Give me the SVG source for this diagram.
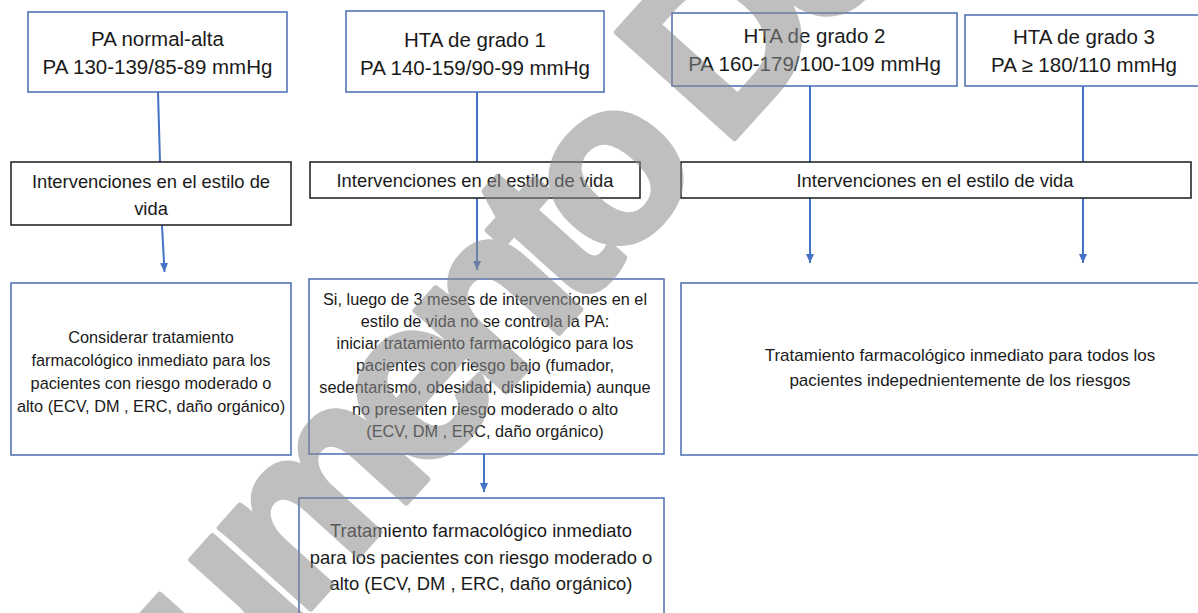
<svg xmlns="http://www.w3.org/2000/svg" width="1198" height="613" viewBox="0 0 1198 613">
<style>
.bx{fill:#ffffff;stroke:#4a6cb3;stroke-width:1.5}
.bk{fill:#ffffff;stroke:#1a1a1a;stroke-width:1.5}
.t{font-family:"Liberation Sans",Arial,sans-serif;fill:#1a1a1a;text-anchor:middle}
.h{font-size:20.5px}
.m{font-size:18.4px}
.s{font-size:16.3px}
.r{font-size:17px}
.c{fill:none;stroke:#4472c4;stroke-width:2}
.wm{font-family:"Liberation Sans",Arial,sans-serif;font-weight:bold;font-size:230px;letter-spacing:-20px;fill:#8c8c8c;stroke:#8c8c8c;stroke-width:6;stroke-linejoin:round}
</style>
<defs>
<marker id="ah" markerUnits="userSpaceOnUse" markerWidth="10" markerHeight="10" refX="9" refY="5" orient="auto">
<path d="M0,1 L9,5 L0,9 Z" fill="#4472c4"/>
</marker>
</defs>
<rect width="1198" height="613" fill="#ffffff"/>

<g id="connectors">
<line class="c" x1="158" y1="92" x2="160" y2="162"/>
<line class="c" x1="162" y1="225" x2="164.5" y2="272" marker-end="url(#ah)"/>
<line class="c" x1="477" y1="92" x2="477" y2="162"/>
<line class="c" x1="477" y1="198" x2="477" y2="270" marker-end="url(#ah)"/>
<line class="c" x1="484" y1="454" x2="484" y2="492" marker-end="url(#ah)"/>
<line class="c" x1="810" y1="86" x2="810" y2="162"/>
<line class="c" x1="810" y1="198" x2="810" y2="263" marker-end="url(#ah)"/>
<line class="c" x1="1083" y1="86" x2="1083" y2="162"/>
<line class="c" x1="1083" y1="198" x2="1083" y2="263" marker-end="url(#ah)"/>
</g>

<g id="n-normal-alta">
<rect class="bx" x="28" y="12" width="259" height="80"/>
<text class="t h" x="157.5" y="45.5">PA normal-alta</text>
<text class="t h" x="157.5" y="74">PA 130-139/85-89 mmHg</text>
</g>

<g id="n-grado1">
<rect class="bx" x="346" y="11" width="258" height="81"/>
<text class="t h" x="475" y="46.5">HTA de grado 1</text>
<text class="t h" x="475" y="75">PA 140-159/90-99 mmHg</text>
</g>

<g id="n-grado2">
<rect class="bx" x="672" y="13" width="285" height="73"/>
<text class="t h" x="814.5" y="43">HTA de grado 2</text>
<text class="t h" x="814.5" y="71">PA 160-179/100-109 mmHg</text>
</g>

<g id="n-grado3">
<rect class="bx" x="965" y="15" width="250" height="71"/>
<text class="t h" x="1084" y="43.5">HTA de grado 3</text>
<text class="t h" x="1084" y="71.5">PA ≥ 180/110 mmHg</text>
</g>

<g id="n-estilo1">
<rect class="bk" x="11" y="162" width="280" height="63"/>
<text class="t m" x="151" y="187.5">Intervenciones en el estilo de</text>
<text class="t m" x="151" y="214.5">vida</text>
</g>

<g id="n-estilo2">
<rect class="bk" x="310" y="162" width="330" height="36"/>
<text class="t m" x="475" y="186.5">Intervenciones en el estilo de vida</text>
</g>

<g id="n-estilo3">
<rect class="bk" x="681" y="162" width="510" height="36"/>
<text class="t m" x="935" y="186.5">Intervenciones en el estilo de vida</text>
</g>

<g id="n-considerar">
<rect class="bx" x="11" y="283" width="280" height="172"/>
<text class="t s" x="151" y="343">Considerar tratamiento</text>
<text class="t s" x="151" y="366">farmacológico inmediato para los</text>
<text class="t s" x="151" y="389">pacientes con riesgo moderado o</text>
<text class="t s" x="151" y="412">alto (ECV, DM , ERC, daño orgánico)</text>
</g>

<g id="n-si-luego">
<rect class="bx" x="309" y="279" width="355" height="175"/>
<text class="t s" x="485" y="305">Si, luego de 3 meses de intervenciones en el</text>
<text class="t s" x="485" y="327">estilo de vida no se controla la PA:</text>
<text class="t s" x="485" y="349">iniciar tratamiento farmacológico para los</text>
<text class="t s" x="485" y="371">pacientes con riesgo bajo (fumador,</text>
<text class="t s" x="485" y="393">sedentarismo, obesidad, dislipidemia) aunque</text>
<text class="t s" x="485" y="415">no presenten riesgo moderado o alto</text>
<text class="t s" x="485" y="437">(ECV, DM , ERC, daño orgánico)</text>
</g>

<g id="n-tratamiento-moderado">
<rect class="bx" x="299" y="498" width="365" height="140"/>
<text class="t m" x="481" y="537">Tratamiento farmacológico inmediato</text>
<text class="t m" x="481" y="563.5">para los pacientes con riesgo moderado o</text>
<text class="t m" x="481" y="590">alto (ECV, DM , ERC, daño orgánico)</text>
</g>

<g id="n-tratamiento-todos">
<rect class="bx" x="681" y="283" width="560" height="172"/>
<text class="t r" x="960" y="361">Tratamiento farmacológico inmediato para todos los</text>
<text class="t r" x="960" y="386">pacientes indepednientemente de los riesgos</text>
</g>

<g id="watermark" opacity="0.55">
<text class="wm" x="-31.2" y="988.4" transform="rotate(-48 -31.2 988.4)">Documento Descargado</text>
</g>
</svg>
